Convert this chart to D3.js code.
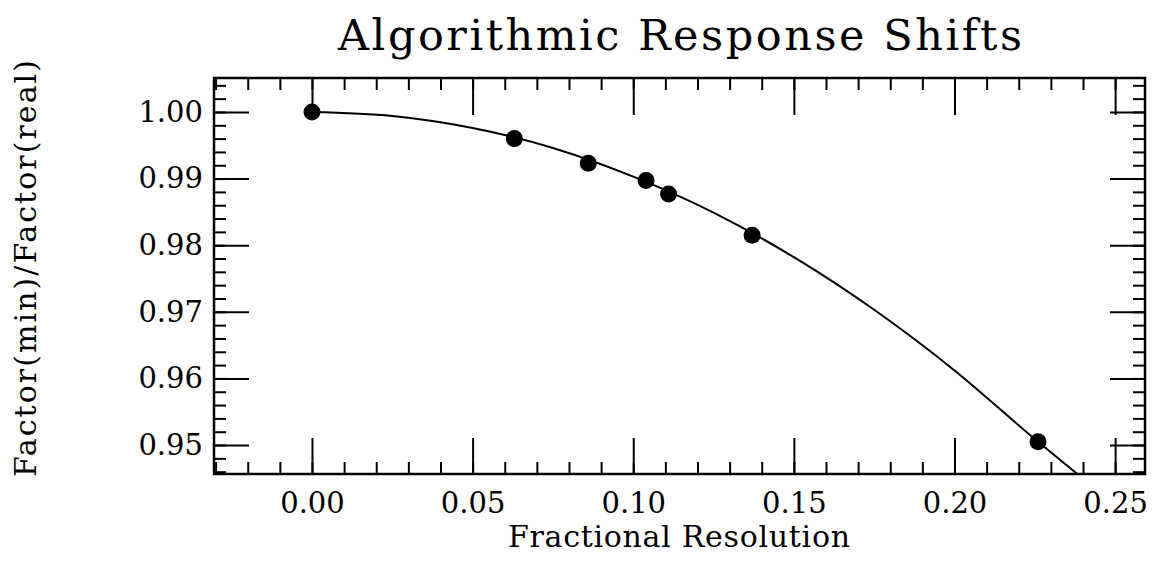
<!DOCTYPE html>
<html lang="en">
<head>
<meta charset="UTF-8">
<title>Algorithmic Response Shifts</title>
<script src="https://cdn.jsdelivr.net/npm/d3@7/dist/d3.min.js"></script>
<style>
  body { margin: 0; background: #fff; }
  text { font-family: "DejaVu Serif", "Liberation Serif", serif; fill: #000; }
</style>
</head>
<body>
<script>
// measured points
const resolution = [0.000, 0.063, 0.086, 0.104, 0.111, 0.137, 0.226];
const factorRatio = [1.0000, 0.9960, 0.9923, 0.9897, 0.9877, 0.9815, 0.9505];

// fitted curve
const curveX = [0.000, 0.025, 0.050, 0.075, 0.100, 0.125, 0.150, 0.175, 0.200, 0.225, 0.245];
const curveY = [1.0000, 0.9994, 0.9976, 0.9946, 0.9903, 0.9849, 0.9782, 0.9703, 0.9612, 0.9509, 0.9430];

const xMajor = [0.00, 0.05, 0.10, 0.15, 0.20, 0.25];
const xMinor = d3.range(-3, 26).map(d => d / 100);
const yMajor = [0.95, 0.96, 0.97, 0.98, 0.99, 1.00];
const yMinor = d3.range(473, 503).map(d => d * 0.002);

const width = 1154, height = 563;
const pLeft = 214, pRight = 1145, pTop = 78, pBottom = 474;

const svg = d3.select('body').append('svg')
    .attr('width', width)
    .attr('height', height);

const x = d3.scaleLinear().domain([-0.0305, 0.2593]).range([pLeft, pRight]);
const y = d3.scaleLinear().domain([0.94565, 1.0051]).range([pBottom, pTop]);

// frame
svg.append('rect')
    .attr('x', pLeft).attr('y', pTop)
    .attr('width', pRight - pLeft).attr('height', pBottom - pTop)
    .attr('fill', 'none').attr('stroke', '#000').attr('stroke-width', 2.5);

function styleAxis(g) {
    g.select('.domain').remove();
    g.selectAll('line').attr('stroke', '#000').attr('stroke-width', 2);
}

const fmt = d3.format('.2f');
const minorX = xMinor.filter(d => d > -0.0305);

// bottom axis with labels
svg.append('g').attr('transform', `translate(0,${pBottom})`)
    .call(d3.axisBottom(x).tickValues(xMajor).tickSize(-36).tickPadding(18).tickFormat(fmt))
    .call(styleAxis)
    .selectAll('text').attr('font-size', 29).attr('font-family', '"DejaVu Serif", serif');
svg.append('g').attr('transform', `translate(0,${pBottom})`)
    .call(d3.axisBottom(x).tickValues(minorX).tickSize(-12).tickFormat(''))
    .call(styleAxis);
// top axis
svg.append('g').attr('transform', `translate(0,${pTop})`)
    .call(d3.axisTop(x).tickValues(xMajor).tickSize(-37).tickFormat(''))
    .call(styleAxis);
svg.append('g').attr('transform', `translate(0,${pTop})`)
    .call(d3.axisTop(x).tickValues(minorX).tickSize(-12).tickFormat(''))
    .call(styleAxis);

// left axis with labels
svg.append('g').attr('transform', `translate(${pLeft},0)`)
    .call(d3.axisLeft(y).tickValues(yMajor).tickSize(-35).tickPadding(11).tickFormat(fmt))
    .call(styleAxis)
    .selectAll('text').attr('font-size', 29).attr('font-family', '"DejaVu Serif", serif');
svg.append('g').attr('transform', `translate(${pLeft},0)`)
    .call(d3.axisLeft(y).tickValues(yMinor).tickSize(-12).tickFormat(''))
    .call(styleAxis);
// right axis
svg.append('g').attr('transform', `translate(${pRight},0)`)
    .call(d3.axisRight(y).tickValues(yMajor).tickSize(-35).tickFormat(''))
    .call(styleAxis);
svg.append('g').attr('transform', `translate(${pRight},0)`)
    .call(d3.axisRight(y).tickValues(yMinor).tickSize(-12).tickFormat(''))
    .call(styleAxis);

// curve
svg.append('clipPath').attr('id', 'plot')
    .append('rect')
    .attr('x', pLeft).attr('y', pTop)
    .attr('width', pRight - pLeft).attr('height', pBottom - pTop);

const line = d3.line()
    .x(d => x(d[0]))
    .y(d => y(d[1]))
    .curve(d3.curveMonotoneX);

svg.append('path')
    .datum(curveX.map((d, i) => [d, curveY[i]]))
    .attr('clip-path', 'url(#plot)')
    .attr('fill', 'none')
    .attr('stroke', '#000')
    .attr('stroke-width', 2)
    .attr('d', line);

// points
svg.selectAll('circle.pt')
    .data(resolution.map((d, i) => [d, factorRatio[i]]))
    .enter()
    .append('circle')
    .attr('class', 'pt')
    .attr('cx', d => x(d[0]))
    .attr('cy', d => y(d[1]))
    .attr('r', 8.5)
    .attr('fill', '#000');

// titles
svg.append('text')
    .attr('x', 338).attr('y', 50)
    .attr('font-size', 43)
    .attr('textLength', 684)
    .attr('lengthAdjust', 'spacing')
    .text('Algorithmic Response Shifts');

svg.append('text')
    .attr('x', 508).attr('y', 547)
    .attr('font-size', 30)
    .attr('textLength', 342)
    .attr('lengthAdjust', 'spacing')
    .text('Fractional Resolution');

svg.append('text')
    .attr('transform', 'translate(36,477) rotate(-90)')
    .attr('font-size', 30)
    .attr('textLength', 417)
    .attr('lengthAdjust', 'spacing')
    .text('Factor(min)/Factor(real)');
</script>
</body>
</html>
